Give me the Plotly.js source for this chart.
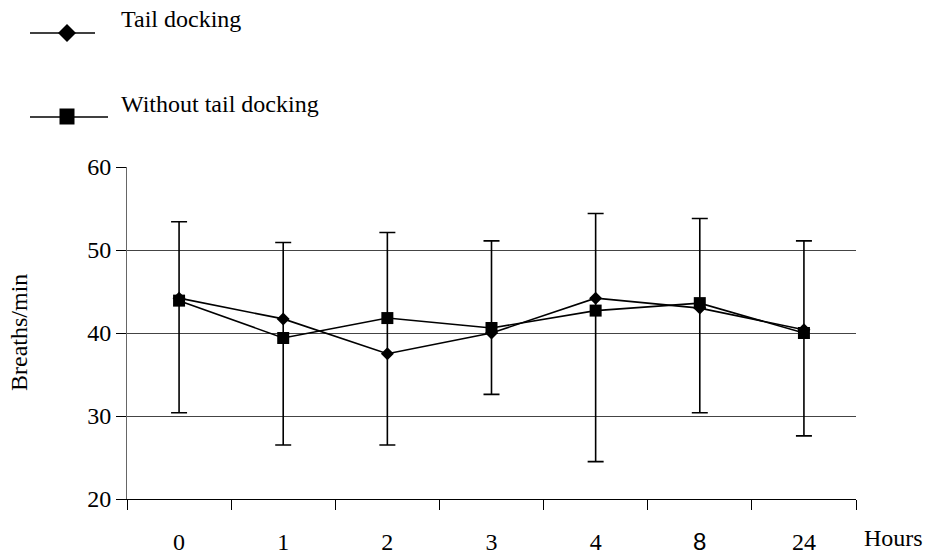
<!DOCTYPE html>
<html>
<head>
<meta charset="utf-8">
<script src="https://cdn.plot.ly/plotly-3.0.1.min.js"></script>
<style>html,body{margin:0;padding:0;background:#fff}#chart{width:929px;height:554px}</style>
</head>
<body>
<div id="chart"></div>
<script>
// Data
const categories = ['0', '1', '2', '3', '4', '8', '24'];
const tickLabels = ['0', '1', '2', '3', '4', '<span style="font-family:Liberation Sans">8</span>', '24'];
const seriesNames = ['Tail docking', 'Without tail docking'];
const tailDocking = [44.2, 41.7, 37.5, 40.0, 44.2, 43.0, 40.4];
const withoutTailDocking = [43.9, 39.4, 41.8, 40.6, 42.7, 43.6, 40.0];
const errorTop = [53.4, 50.9, 52.1, 51.1, 54.4, 53.8, 51.1];
const errorBottom = [30.4, 26.5, 26.5, 32.6, 24.5, 30.4, 27.6];

const serif = 'Liberation Serif, Times New Roman, serif';
const FS = 24;

const M = {l: 127, r: 73, t: 167, b: 55};
const PW = 929 - M.l - M.r, PH = 554 - M.t - M.b;
const px = x => (x - M.l) / PW;
const py = y => (554 - M.b - y) / PH;

const rangeTrace = {
  x: categories, y: errorBottom, type: 'scatter', mode: 'markers',
  marker: {opacity: 0, size: 1}, showlegend: false, hoverinfo: 'skip',
  error_y: {
    type: 'data', symmetric: false,
    array: errorTop.map((t, i) => t - errorBottom[i]),
    arrayminus: errorBottom.map(() => 0),
    color: '#000', thickness: 1.6, width: 8
  }
};
const tailTrace = {
  x: categories, y: tailDocking, type: 'scatter', mode: 'lines+markers',
  name: seriesNames[0], line: {color: '#000', width: 1.6},
  marker: {symbol: 'diamond', size: 10, color: '#000'}
};
const withoutTrace = {
  x: categories, y: withoutTailDocking, type: 'scatter', mode: 'lines+markers',
  name: seriesNames[1], line: {color: '#000', width: 1.6},
  marker: {symbol: 'square', size: 12, color: '#000'}
};
const dummy = {x: [0], y: [null], xaxis: 'x2', type: 'scatter', mode: 'markers', showlegend: false, hoverinfo: 'skip'};

function diamondPath(cx, cy, r) {
  return 'M' + px(cx - r) + ',' + py(cy) + ' L' + px(cx) + ',' + py(cy - r) +
         ' L' + px(cx + r) + ',' + py(cy) + ' L' + px(cx) + ',' + py(cy + r) + ' Z';
}
const legendShapes = [
  {type: 'line', xref: 'paper', yref: 'paper', x0: px(30), x1: px(95), y0: py(33), y1: py(33), line: {color: '#000', width: 1.6}},
  {type: 'path', xref: 'paper', yref: 'paper', path: diamondPath(67, 33, 9), fillcolor: '#000', line: {color: '#000', width: 0}},
  {type: 'line', xref: 'paper', yref: 'paper', x0: px(30), x1: px(108), y0: py(117), y1: py(117), line: {color: '#000', width: 1.6}},
  {type: 'rect', xref: 'paper', yref: 'paper', x0: px(59.5), x1: px(74.5), y0: py(108.5), y1: py(124.5), fillcolor: '#000', line: {color: '#000', width: 0}}
];

const tf = {family: serif, size: FS, color: '#000'};
const layout = {
  width: 929, height: 554, margin: M,
  paper_bgcolor: '#fff', plot_bgcolor: '#fff',
  font: tf, showlegend: false,
  xaxis: {
    type: 'category', range: [-0.5, categories.length - 0.5],
    tickson: 'boundaries', ticks: 'outside', ticklen: 10, tickcolor: '#000', tickwidth: 1,
    showticklabels: false, showgrid: false, zeroline: false,
    showline: true, linecolor: '#000', linewidth: 1, fixedrange: true
  },
  xaxis2: {
    overlaying: 'x', anchor: 'y', side: 'bottom',
    range: [-0.5, categories.length - 0.5],
    tickmode: 'array', tickvals: categories.map((c, i) => i), ticktext: tickLabels,
    ticks: '', showgrid: false, zeroline: false, showline: false,
    ticklabelstandoff: 26, tickfont: tf, fixedrange: true
  },
  yaxis: {
    range: [20, 60], dtick: 10, tick0: 20,
    ticks: 'outside', ticklen: 10, tickcolor: '#000', tickwidth: 1,
    showgrid: true, gridcolor: '#444', gridwidth: 1, zeroline: false,
    showline: true, linecolor: '#666', linewidth: 1,
    tickfont: tf, fixedrange: true
  },
  shapes: legendShapes,
  annotations: [
    {text: seriesNames[0], xref: 'paper', yref: 'paper', x: px(119), y: py(19),
     showarrow: false, xanchor: 'left', yanchor: 'middle', font: tf},
    {text: seriesNames[1], xref: 'paper', yref: 'paper', x: px(119), y: py(104),
     showarrow: false, xanchor: 'left', yanchor: 'middle', font: tf},
    {text: 'Breaths/min', xref: 'paper', yref: 'paper', x: px(19), y: 0.5,
     textangle: -90, showarrow: false, xanchor: 'center', yanchor: 'middle', font: tf},
    {text: 'Hours', xref: 'paper', yref: 'paper', x: px(894), y: py(538),
     showarrow: false, xanchor: 'center', yanchor: 'middle', borderpad: 0, font: tf}
  ]
};

Plotly.newPlot('chart', [rangeTrace, tailTrace, withoutTrace, dummy], layout, {displayModeBar: false, staticPlot: true});
</script>
</body>
</html>
